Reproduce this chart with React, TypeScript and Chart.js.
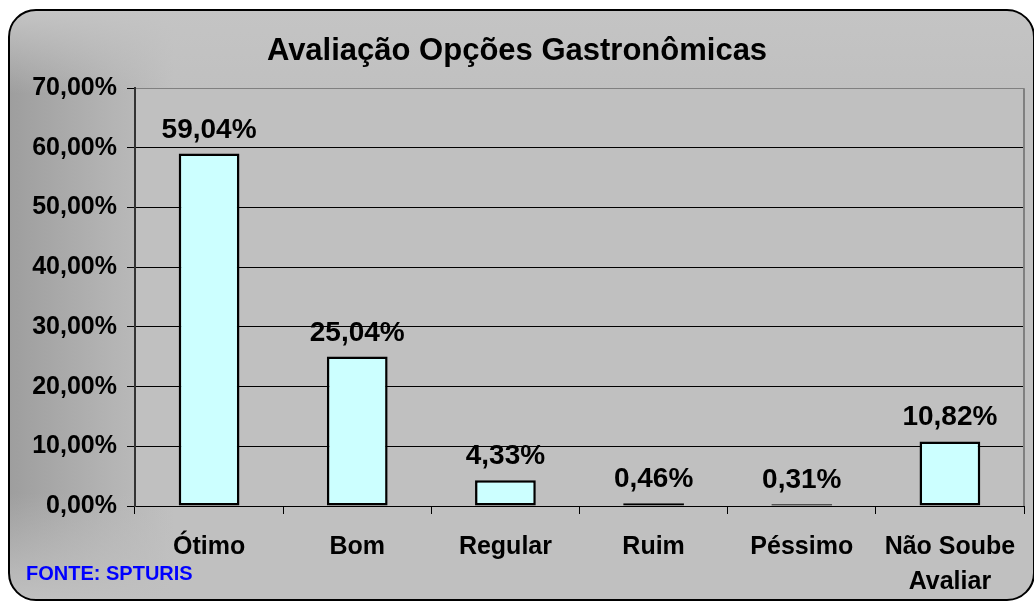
import React, { useEffect, useRef } from "react";
import { Chart, registerables } from "chart.js";

Chart.register(...registerables);

const TITLE = "Avaliação Opções Gastronômicas";
const SOURCE = "FONTE: SPTURIS";
const categories: (string | string[])[] = ["Ótimo", "Bom", "Regular", "Ruim", "Péssimo", ["Não Soube", "Avaliar"]];
const values = [59.04, 25.04, 4.33, 0.46, 0.31, 10.82];
const yMax = 70;
const yStep = 10;

const FONT = "'Liberation Sans', Arial, sans-serif";

const fmt = (v: number, d = 2) => v.toFixed(d).replace(".", ",") + "%";

export default function App() {
  const ref = useRef<HTMLCanvasElement | null>(null);

  useEffect(() => {
    if (!ref.current) return;
    const extras = {
      id: "extras",
      beforeDraw(chart: any) {
        const { ctx, chartArea: a } = chart;
        ctx.save();
        ctx.fillStyle = "#c0c0c0";
        ctx.fillRect(a.left, a.top, a.right - a.left, a.bottom - a.top);
        ctx.restore();
      },
      afterDraw(chart: any) {
        const { ctx, chartArea: a } = chart;
        ctx.save();
        ctx.strokeStyle = "#808080";
        ctx.lineWidth = 2;
        ctx.beginPath();
        ctx.moveTo(a.right, a.top);
        ctx.lineTo(a.right, a.bottom);
        ctx.stroke();
        // data labels
        const meta = chart.getDatasetMeta(0);
        ctx.fillStyle = "#000";
        ctx.font = `bold 28px ${FONT}`;
        ctx.textAlign = "center";
        ctx.textBaseline = "alphabetic";
        meta.data.forEach((el: any, i: number) => {
          ctx.fillText(fmt(values[i]), el.x, el.y - 16);
        });
        // source
        ctx.fillStyle = "#0000ff";
        ctx.font = `bold 20px ${FONT}`;
        ctx.textAlign = "left";
        ctx.fillText(SOURCE, 26, 580);
        ctx.restore();
      },
    };

    const chart = new Chart(ref.current, {
      type: "bar",
      data: {
        labels: categories,
        datasets: [
          {
            data: values,
            backgroundColor: "#ccffff",
            borderColor: "#000000",
            borderWidth: 2.5,
            borderSkipped: false,
            categoryPercentage: 1,
            barPercentage: 0.41,
          },
        ],
      },
      options: {
        responsive: false,
        animation: false,
        layout: { padding: { left: 10, right: 10, top: 10, bottom: 0 } },
        plugins: {
          legend: { display: false },
          tooltip: { enabled: false },
          title: {
            display: true,
            text: TITLE,
            color: "#000",
            font: { family: FONT, size: 31, weight: "bold" },
            padding: { top: 23, bottom: 18 },
          },
        },
        scales: {
          x: {
            offset: true,
            grid: {
              offset: true,
              drawOnChartArea: false,
              drawTicks: true,
              tickLength: 8,
              color: "#000",
            },
            border: { color: "#000", width: 1 },
            ticks: {
              color: "#000",
              padding: 16,
              maxRotation: 0,
              autoSkip: false,
              font: { family: FONT, size: 25, weight: "bold", lineHeight: 1.38 },
            },
            afterFit(scale: any) {
              scale.height = 96;
            },
          },
          y: {
            min: 0,
            max: yMax,
            ticks: {
              stepSize: yStep,
              color: "#000",
              padding: 10,
              font: { family: FONT, size: 25, weight: "bold" },
              callback: (v: any) => fmt(Number(v)),
            },
            grid: {
              color: (c: any) => (c.tick && c.tick.value === yMax ? "#808080" : "#000"),
              tickColor: "#000",
              tickLength: 8,
              lineWidth: 1,
            },
            border: { color: "#333333", width: 2 },
            afterFit(scale: any) {
              scale.width = 125;
            },
          },
        },
      },
      plugins: [extras],
    });
    return () => chart.destroy();
  }, []);

  return (
    <div
      style={{
        position: "fixed",
        left: 0,
        top: 0,
        width: 1034,
        height: 602,
        overflow: "hidden",
      }}
    >
      <div
        style={{
          position: "absolute",
          left: 8,
          top: 9,
          width: 1027,
          height: 592,
          boxSizing: "border-box",
          border: "2px solid #000",
          borderRadius: 28,
          background:
            "linear-gradient(180deg, #c4c4c4 0%, rgba(192,192,192,0) 14%, rgba(192,192,192,0) 82%, #c0c0c0 100%), linear-gradient(90deg, #9e9e9e 0%, #b4b4b4 10%, #c0c0c0 16%, #c0c0c0 100%)",
        }}
      />
      <canvas
        ref={ref}
        width={1034}
        height={602}
        style={{ position: "absolute", left: 0, top: 0, width: 1034, height: 602 }}
      />
    </div>
  );
}
